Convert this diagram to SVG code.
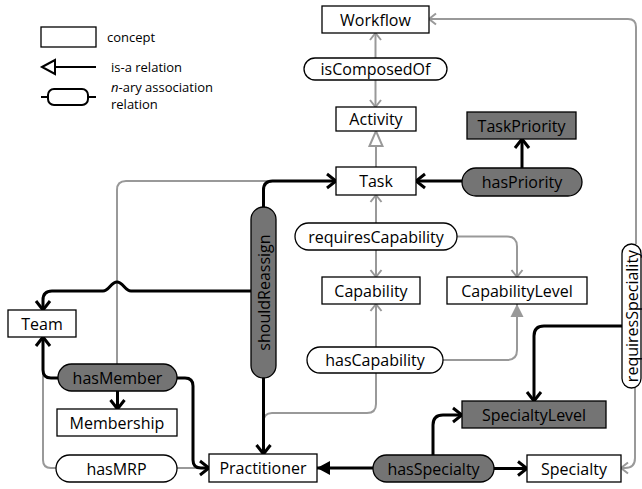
<svg xmlns="http://www.w3.org/2000/svg" width="642" height="489" viewBox="0 0 642 489">
<defs>
<style>
.box{fill:#fff;stroke:#000;stroke-width:1.3}
.dark{fill:#747474;stroke:#000;stroke-width:1.3}
.t{font-family:"Open Sans","Noto Sans",sans-serif;font-size:16px;text-anchor:middle;dominant-baseline:central;fill:#000}
.lg{font-family:"Open Sans","Noto Sans",sans-serif;font-size:13px;fill:#000}
.g{fill:none;stroke:#999;stroke-width:2}
.b{fill:none;stroke:#000;stroke-width:3}
</style>
<marker id="ab" markerUnits="userSpaceOnUse" viewBox="0 0 14 18" markerWidth="14" markerHeight="18" refX="12" refY="9" orient="auto"><path d="M3,2 L12,9 L3,16" fill="none" stroke="#000" stroke-width="3"/></marker>
<marker id="ag" markerUnits="userSpaceOnUse" viewBox="0 0 12 14" markerWidth="12" markerHeight="14" refX="10" refY="7" orient="auto"><path d="M3,1.5 L10,7 L3,12.5" fill="none" stroke="#999" stroke-width="2"/></marker>
<marker id="tg" markerUnits="userSpaceOnUse" viewBox="0 0 14 14" markerWidth="14" markerHeight="14" refX="13" refY="7" orient="auto"><path d="M0,0.5 L13,7 L0,13.5 Z" fill="#999"/></marker>
<marker id="tb" markerUnits="userSpaceOnUse" viewBox="0 0 14 16" markerWidth="14" markerHeight="16" refX="13" refY="8" orient="auto"><path d="M0,1 L13,8 L0,15 Z" fill="#000"/></marker>
<marker id="to" markerUnits="userSpaceOnUse" viewBox="0 0 18 16" markerWidth="18" markerHeight="16" refX="16" refY="8" orient="auto"><path d="M1,1.5 L16,8 L1,14.5 Z" fill="#fff" stroke="#999" stroke-width="2"/></marker>
</defs>

<g id="legend">
<rect class="box" x="41" y="27" width="55" height="20"/>
<text class="lg" x="107" y="42">concept</text>
<path d="M55,67 H96" fill="none" stroke="#000" stroke-width="2"/>
<polygon points="42,67 55,60 55,74" fill="#fff" stroke="#000" stroke-width="2"/>
<text class="lg" x="111" y="72">is-a relation</text>
<path d="M41,97 H48 M88,97 H96" fill="none" stroke="#000" stroke-width="2"/>
<rect x="48" y="89" width="40" height="16" rx="6" fill="#fff" stroke="#000" stroke-width="2"/>
<text class="lg" x="111" y="92"><tspan font-style="italic">n</tspan>-ary association</text>
<text class="lg" x="111" y="109">relation</text>
</g>

<g id="connectors">
<path class="g" d="M636,244 V27 Q636,19 628,19 H429" marker-end="url(#ag)"/>
<path class="g" d="M635,388 V458 Q635,468 625,468 H621" marker-end="url(#ag)"/>
<path class="g" d="M375.5,58 V33" marker-end="url(#ag)"/>
<path class="g" d="M375.5,80 V107" marker-end="url(#ag)"/>
<path class="g" d="M376,167 V131" marker-end="url(#to)"/>
<path class="g" d="M376,223 V195" marker-end="url(#ag)"/>
<path class="g" d="M376,250 V277" marker-end="url(#ag)"/>
<path class="g" d="M457,236.5 H507 Q517,236.5 517,246.5 V277" marker-end="url(#ag)"/>
<path class="g" d="M376,347 V304" marker-end="url(#ag)"/>
<path class="g" d="M443,360 H507 Q517,360 517,350 V304" marker-end="url(#tg)"/>
<path class="g" d="M376,373 V404 Q376,413 367,413 H272 Q263.5,413 263.5,422 V454"/>
<path class="g" d="M117,364 V190 Q117,181 126,181 H336"/>
<path class="g" d="M56,468 H51 Q43,468 43,460 V337"/>
<path class="g" d="M177,468 H209"/>
<path class="b" d="M462,181 H416" marker-end="url(#ab)"/>
<path class="b" d="M522,168 V139" marker-end="url(#ab)"/>
<path class="b" d="M263.5,207 V190 Q263.5,181 272.5,181 H336" marker-end="url(#ab)"/>
<path class="b" d="M251,291 H131 C125,291 123,282 117,282 C111,282 109,291 103,291 H52 Q43,291 43,300 V310" marker-end="url(#ab)"/>
<path class="b" d="M263.5,378 V454" marker-end="url(#ab)"/>
<path class="b" d="M58,378 H51 Q43,378 43,370 V337" marker-end="url(#ab)"/>
<path class="b" d="M117.5,391 V409" marker-end="url(#ab)"/>
<path class="b" d="M177,378 H185 Q193,378 193,386 V460 Q193,468 201,468 H209" marker-end="url(#ab)"/>
<path class="b" d="M622,326 H544 Q534,326 534,336 V401" marker-end="url(#ab)"/>
<path class="b" d="M433,455 V425 Q433,415 443,415 H462" marker-end="url(#ab)"/>
<path class="b" d="M494,468.5 H527" marker-end="url(#ab)"/>
<path class="b" d="M373,468 H317" marker-end="url(#tb)"/>
</g>

<g id="Workflow"><rect class="box" x="322" y="6" width="107" height="27"/><text class="t" x="375.5" y="19.5">Workflow</text></g>
<g id="isComposedOf"><rect class="box" x="304" y="58" width="143" height="22" rx="11"/><text class="t" x="375.5" y="69">isComposedOf</text></g>
<g id="Activity"><rect class="box" x="336" y="107" width="80" height="24"/><text class="t" x="376" y="119">Activity</text></g>
<g id="Task"><rect class="box" x="336" y="167" width="80" height="28"/><text class="t" x="376" y="181">Task</text></g>
<g id="TaskPriority"><rect class="dark" x="467" y="112" width="109" height="27"/><text class="t" x="521.5" y="125.5">TaskPriority</text></g>
<g id="hasPriority"><rect class="dark" x="462" y="168" width="120" height="28" rx="14"/><text class="t" x="522" y="182">hasPriority</text></g>
<g id="requiresCapability"><rect class="box" x="295" y="223" width="162" height="27" rx="13.5"/><text class="t" x="376" y="236.5">requiresCapability</text></g>
<g id="Capability"><rect class="box" x="322" y="277" width="98" height="27"/><text class="t" x="371" y="290.5">Capability</text></g>
<g id="CapabilityLevel"><rect class="box" x="447" y="277" width="140" height="27"/><text class="t" x="517" y="290.5">CapabilityLevel</text></g>
<g id="hasCapability"><rect class="box" x="307" y="347" width="136" height="26" rx="13"/><text class="t" x="375" y="360">hasCapability</text></g>
<g id="shouldReassign"><rect class="dark" x="251" y="207" width="25" height="171" rx="12.5"/><text class="t" transform="translate(263.5,292.5) rotate(-90)" x="0" y="0">shouldReassign</text></g>
<g id="Team"><rect class="box" x="8" y="310" width="68" height="27"/><text class="t" x="42" y="323.5">Team</text></g>
<g id="hasMember"><rect class="dark" x="58" y="364" width="119" height="27" rx="13.5"/><text class="t" x="117.5" y="377.5">hasMember</text></g>
<g id="Membership"><rect class="box" x="57" y="409" width="120" height="27"/><text class="t" x="117" y="422.5">Membership</text></g>
<g id="hasMRP"><rect class="box" x="56" y="455" width="121" height="27" rx="13.5"/><text class="t" x="116.5" y="468.5">hasMRP</text></g>
<g id="Practitioner"><rect class="box" x="209" y="454" width="108" height="28"/><text class="t" x="263" y="468">Practitioner</text></g>
<g id="hasSpecialty"><rect class="dark" x="373" y="455" width="121" height="27" rx="13.5"/><text class="t" x="433.5" y="468.5">hasSpecialty</text></g>
<g id="Specialty"><rect class="box" x="527" y="455" width="94" height="27"/><text class="t" x="574" y="468.5">Specialty</text></g>
<g id="SpecialtyLevel"><rect class="dark" x="462" y="401" width="144" height="27"/><text class="t" x="534" y="414.5">SpecialtyLevel</text></g>
<g id="requiresSpeciality"><rect class="box" x="622" y="244" width="19" height="144" rx="9.5"/><text class="t" transform="translate(631.5,316) rotate(-90)" x="0" y="0">requiresSpeciality</text></g>
</svg>
